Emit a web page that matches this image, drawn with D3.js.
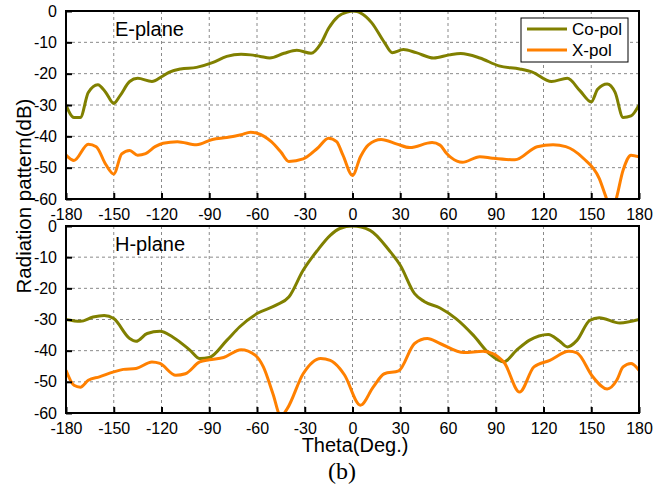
<!DOCTYPE html>
<html>
<head>
<meta charset="utf-8">
<script src="https://cdn.jsdelivr.net/npm/d3@7"></script>
<style>
  body { margin: 0; background: #fff; }
  svg { display: block; }
  .tick text { font-family: "Liberation Sans", Arial, sans-serif; font-size: 16px; fill: #000; }
</style>
</head>
<body>
<div id="chart"></div>
<script>
// theta ticks (deg) and level ticks (dB)
var thetaTicks = d3.range(-180, 181, 30);
var dbTicks = [0, -10, -20, -30, -40, -50, -60];

// E-plane, co-polarisation
var eCoTheta = [-180, -175, -171, -166, -160, -155, -150, -146, -140, -135, -126, -120, -115, -108, -98, -88, -79, -70, -64, -58, -52, -43, -35, -26, -20, -15, -9, -3, 0, 3, 5, 12, 20, 25, 32, 40, 51, 61, 68, 80, 92, 105, 113, 125, 135, 143, 150, 154, 160, 165, 170, 175, 180];
var eCoDb = [-30, -34, -34, -26, -23.5, -26, -29.5, -27, -22.5, -21.5, -22.5, -21, -19.5, -18.5, -18, -16.5, -14.5, -13.8, -14, -14.5, -15, -13.5, -12.5, -13.5, -10.5, -5.5, -1.7, -0.3, 0, -0.2, -0.6, -3.7, -10, -13.3, -12.3, -13.3, -15, -14, -13.6, -15, -17.5, -18.5, -19.5, -22.5, -21.5, -25.5, -29, -25, -23.3, -26, -34, -33.5, -30];

// E-plane, cross-polarisation
var eXTheta = [-180, -175, -166, -161, -155, -150, -145, -140, -135, -130, -124, -119, -110, -98, -88, -79, -70, -64, -60, -51, -45, -40, -31, -22, -15, -10, -6, 0, 5, 10, 18, 28, 36, 50, 55, 59, 62, 69, 80, 88, 102, 116, 126, 134, 145, 155, 159, 162, 165, 170, 175, 180];
var eXDb = [-46, -47.7, -42.5, -43.3, -49, -52, -45.6, -44.5, -46, -45.5, -43.3, -42.2, -41.7, -42.7, -41, -40.4, -39.5, -38.7, -39, -41.7, -45, -48, -47.2, -43.8, -40.6, -41.7, -46, -52.5, -46.5, -42.7, -41, -42.5, -43.6, -42, -42.8, -45.4, -46.8, -48.3, -46.5, -47, -47.5, -43.3, -42.7, -43.3, -47, -53.4, -59, -63, -61, -50.8, -46, -46.5];

// H-plane, co-polarisation
var hCoTheta = [-180, -171, -163, -156, -150, -140, -136, -129, -121, -113, -102, -96, -90, -79, -71, -60, -48, -40, -31, -22, -14, -8, 0, 11, 23, 30, 39, 45, 55, 65, 76, 86, 95, 103, 111, 123, 130, 135, 141, 149, 155, 168, 180];
var hCoDb = [-30, -30.6, -29.2, -28.7, -29.7, -36.1, -37, -34.5, -33.8, -35.6, -39.9, -42.5, -42.2, -36.7, -32.4, -28.1, -25.4, -22.8, -14.2, -7.8, -3, -0.8, 0, -1.4, -7.8, -12.6, -21.7, -24.2, -26.3, -29.7, -35.1, -41, -43.6, -39.9, -36.7, -34.8, -36.9, -38.8, -36.7, -30.3, -29.4, -31.1, -30];

// H-plane, cross-polarisation
var hXTheta = [-180, -175, -171, -166, -159, -150, -144, -136, -126, -121, -111, -105, -96, -90, -81, -70, -61, -56, -50, -45, -41, -31, -20, -14, -8, -5, 5, 13, 20, 29, 39, 47, 55, 70, 82, 95, 105, 114, 124, 136, 141, 151, 160, 166, 170, 175, 180];
var hXDb = [-46.3, -51.1, -51.7, -49.5, -48.4, -46.8, -46, -45.7, -43.6, -44.1, -47.9, -47.4, -43.6, -42.9, -42.2, -39.7, -41.5, -45.2, -53.8, -61, -58.6, -47.4, -42.5, -43.1, -45.7, -47.8, -57.5, -51.7, -47.4, -46.5, -37.7, -36.1, -37.7, -40.6, -40.2, -43.6, -53.3, -45.2, -43.1, -40.2, -40.7, -48.4, -52.3, -49.5, -45.2, -44.1, -46.3];

var seriesNames = ['Co-pol', 'X-pol'];
var seriesColors = ['#808000', '#ff8000'];

var width = 672, height = 493;
var left = 66, right = 639;
var font = '"Liberation Sans", Arial, sans-serif';

var svg = d3.select('#chart').append('svg')
  .attr('width', width)
  .attr('height', height);

var x = d3.scaleLinear().domain([-180, 180]).range([left, right]);

// plain hyphen minus, like the original figure
var plain = function (d) { return String(d); };

function zip(th, db) {
  return th.map(function (t, i) { return {t: t, v: db[i]}; });
}

function drawPanel(id, top, bottom, title, co, xp, withLegend) {
  var y = d3.scaleLinear().domain([-60, 0]).range([bottom, top]);
  var g = svg.append('g').attr('class', 'panel');

  // dashed grid
  g.append('g').selectAll('line')
    .data(thetaTicks.filter(function (d) { return d > -180 && d < 180; }))
    .enter().append('line')
    .attr('x1', function (d) { return x(d); })
    .attr('x2', function (d) { return x(d); })
    .attr('y1', top).attr('y2', bottom)
    .attr('stroke', '#8a8a8a').attr('stroke-width', 1)
    .attr('stroke-dasharray', '3,3');

  g.append('g').selectAll('line')
    .data(dbTicks.filter(function (d) { return d > -60 && d < 0; }))
    .enter().append('line')
    .attr('x1', left).attr('x2', right)
    .attr('y1', function (d) { return y(d); })
    .attr('y2', function (d) { return y(d); })
    .attr('stroke', '#8a8a8a').attr('stroke-width', 1)
    .attr('stroke-dasharray', '3,3');

  // curves, clipped to the plot box
  g.append('clipPath').attr('id', id)
    .append('rect')
    .attr('x', left).attr('y', top)
    .attr('width', right - left).attr('height', bottom - top);

  var line = d3.line()
    .x(function (d) { return x(d.t); })
    .y(function (d) { return y(d.v); })
    .curve(d3.curveMonotoneX);

  [co, xp].forEach(function (s, i) {
    g.append('path')
      .datum(s)
      .attr('clip-path', 'url(#' + id + ')')
      .attr('fill', 'none')
      .attr('stroke', seriesColors[i])
      .attr('stroke-width', 3)
      .attr('stroke-linejoin', 'round')
      .attr('d', line);
  });

  // axes with inward ticks
  var xa = g.append('g')
    .attr('transform', 'translate(0,' + bottom + ')')
    .call(d3.axisBottom(x).tickValues(thetaTicks).tickFormat(plain).tickSize(-6).tickPadding(10));
  var ya = g.append('g')
    .attr('transform', 'translate(' + left + ',0)')
    .call(d3.axisLeft(y).tickValues(dbTicks).tickFormat(plain).tickSize(-6).tickPadding(9));
  [xa, ya].forEach(function (a) {
    a.select('.domain').remove();
    a.selectAll('.tick line').attr('stroke', '#000').attr('stroke-width', 2);
  });

  g.append('rect')
    .attr('x', left).attr('y', top)
    .attr('width', right - left).attr('height', bottom - top)
    .attr('fill', 'none')
    .attr('stroke', '#000')
    .attr('stroke-width', 2);

  g.append('text')
    .attr('x', 115).attr('y', top + 25)
    .attr('font-family', font)
    .attr('font-size', 20)
    .text(title);

  if (withLegend) {
    var lg = g.append('g').attr('transform', 'translate(521,18)');
    lg.append('rect')
      .attr('width', 107).attr('height', 44)
      .attr('fill', '#fff').attr('stroke', '#000').attr('stroke-width', 1);
    seriesNames.forEach(function (n, i) {
      var yy = 11 + i * 21;
      lg.append('line')
        .attr('x1', 6).attr('x2', 46)
        .attr('y1', yy).attr('y2', yy)
        .attr('stroke', seriesColors[i]).attr('stroke-width', 3);
      lg.append('text')
        .attr('x', 51).attr('y', yy + 6)
        .attr('font-family', font).attr('font-size', 17)
        .text(n);
    });
  }
}

drawPanel('clipE', 11, 199, 'E-plane', zip(eCoTheta, eCoDb), zip(eXTheta, eXDb), true);
drawPanel('clipH', 226, 413, 'H-plane', zip(hCoTheta, hCoDb), zip(hXTheta, hXDb), false);

svg.append('text')
  .attr('transform', 'translate(31,196) rotate(-90)')
  .attr('text-anchor', 'middle')
  .attr('font-family', font)
  .attr('font-size', 20.5)
  .text('Radiation pattern(dB)');

svg.append('text')
  .attr('x', 355).attr('y', 452)
  .attr('text-anchor', 'middle')
  .attr('font-family', font)
  .attr('font-size', 20)
  .text('Theta(Deg.)');

svg.append('text')
  .attr('x', 342).attr('y', 479)
  .attr('text-anchor', 'middle')
  .attr('font-family', '"Liberation Serif", "Times New Roman", serif')
  .attr('font-size', 24)
  .text('(b)');
</script>
</body>
</html>
